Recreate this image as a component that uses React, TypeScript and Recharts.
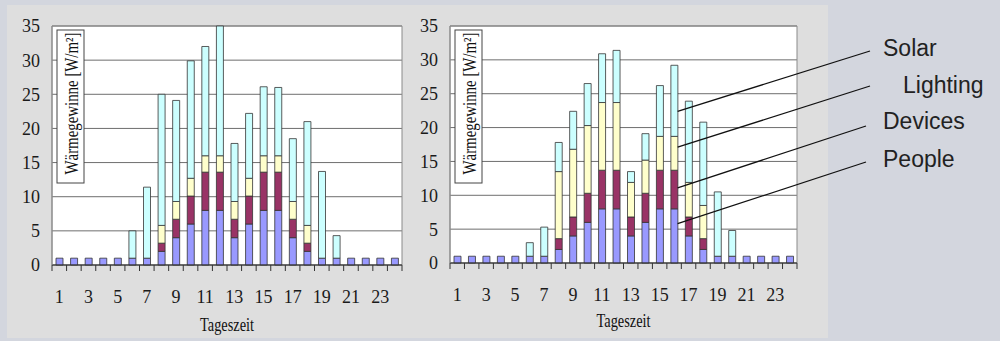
import React from 'react';
import { BarChart, Bar, XAxis, YAxis, CartesianGrid, ReferenceArea } from 'recharts';

// hour of day, 1..24
const hours = ['1', '2', '3', '4', '5', '6', '7', '8', '9', '10', '11', '12',
  '13', '14', '15', '16', '17', '18', '19', '20', '21', '22', '23', '24'];
const yTicks = [0, 5, 10, 15, 20, 25, 30, 35];

// left panel
const peopleA = [1, 1, 1, 1, 1, 1, 1, 2, 4, 6, 8, 8, 4, 6, 8, 8, 4, 2, 1, 1, 1, 1, 1, 1];
const devicesA = [0, 0, 0, 0, 0, 0, 0, 1.2, 2.7, 4.1, 5.6, 5.6, 2.7, 4.1, 5.6, 5.6, 2.7, 1.2, 0, 0, 0, 0, 0, 0];
const lightingA = [0, 0, 0, 0, 0, 0, 0, 2.6, 2.6, 2.6, 2.4, 2.4, 2.6, 2.6, 2.4, 2.4, 2.6, 2.6, 0, 0, 0, 0, 0, 0];
const solarA = [0, 0, 0, 0, 0, 4, 10.4, 19.2, 14.8, 17.2, 16, 19, 8.5, 9.5, 10.1, 10, 9.2, 15.2, 12.7, 3.3, 0, 0, 0, 0];

// right panel
const peopleB = [1, 1, 1, 1, 1, 1, 1, 2, 4, 6, 8, 8, 4, 6, 8, 8, 4, 2, 1, 1, 1, 1, 1, 1];
const devicesB = [0, 0, 0, 0, 0, 0, 0, 1.6, 2.8, 4.3, 5.7, 5.7, 2.8, 4.3, 5.7, 5.7, 2.8, 1.6, 0, 0, 0, 0, 0, 0];
const lightingB = [0, 0, 0, 0, 0, 0, 0, 9.9, 10, 10, 10, 10, 5.1, 4.9, 5, 5, 5.1, 4.9, 0, 0, 0, 0, 0, 0];
const solarB = [0, 0, 0, 0, 0, 2, 4.3, 4.3, 5.6, 6.2, 7.2, 7.7, 1.6, 3.9, 7.5, 10.5, 12, 12.3, 9.5, 3.8, 0, 0, 0, 0];

// callout labels and the value on hour 16 (right panel) each one points at
const calloutLabels = ['Solar', 'Lighting', 'Devices', 'People'];
const calloutValues = [22.4, 17.1, 11.1, 5.8];
const calloutHour = 16;

const COLORS = { people: '#9999ff', devices: '#993366', lighting: '#ffffcc', solar: '#ccffff' };
const SERIF = '"Liberation Serif", "Times New Roman", serif';
const SANS = '"Liberation Sans", Arial, sans-serif';
const BAR_SIZE = 7;

const toRows = (p: number[], d: number[], l: number[], s: number[]) =>
  hours.map((h, i) => ({ hour: h, people: p[i], devices: d[i], lighting: l[i], solar: s[i] }));

const rowsA = toRows(peopleA, devicesA, lightingA, solarA);
const rowsB = toRows(peopleB, devicesB, lightingB, solarB);

type Frame = { left: number; width: number; plotLeft: number; plotRight: number; plotTop: number; plotBottom: number };

const frameA: Frame = { left: 0, width: 420, plotLeft: 52, plotRight: 402, plotTop: 26, plotBottom: 265 };
const frameB: Frame = { left: 400, width: 420, plotLeft: 450, plotRight: 797, plotTop: 26, plotBottom: 263 };

const HourTick = (props: any) => {
  const { x, y, index, payload, step } = props;
  const edge = x - step / 2;
  return (
    <g>
      <line x1={edge} x2={edge} y1={y} y2={y + 6} stroke="#333" strokeWidth={1} />
      {index === hours.length - 1 && (
        <line x1={x + step / 2} x2={x + step / 2} y1={y} y2={y + 6} stroke="#333" strokeWidth={1} />
      )}
      {index % 2 === 0 && (
        <text x={x} y={y + 38} textAnchor="middle" fontFamily={SERIF} fontSize={18} fill="#1a1a1a">
          {payload.value}
        </text>
      )}
    </g>
  );
};

const GainsChart = ({ rows, frame }: { rows: any[]; frame: Frame }) => {
  const step = (frame.plotRight - frame.plotLeft) / hours.length;
  const yAxisWidth = 40;
  return (
    <div style={{ position: 'absolute', left: frame.left, top: 0 }}>
      <BarChart
        width={frame.width}
        height={341}
        data={rows}
        barSize={BAR_SIZE}
        margin={{
          top: frame.plotTop,
          right: frame.left + frame.width - frame.plotRight,
          bottom: 0,
          left: frame.plotLeft - frame.left - yAxisWidth,
        }}
      >
        <CartesianGrid vertical={false} stroke="#6e6e6e" fill="#ffffff" />
        <XAxis
          dataKey="hour"
          interval={0}
          height={341 - frame.plotBottom}
          tickSize={0}
          tickMargin={0}
          tickLine={false}
          axisLine={{ stroke: '#333' }}
          tick={(p: any) => <HourTick {...p} step={step} />}
        />
        <YAxis
          width={yAxisWidth}
          domain={[0, 35]}
          ticks={yTicks}
          interval={0}
          tickLine={false}
          tickSize={0}
          tickMargin={12}
          axisLine={{ stroke: '#8a8a8a' }}
          tick={{ fontFamily: SERIF, fontSize: 18, fill: '#1a1a1a' }}
        />
        <Bar dataKey="people" stackId="g" fill={COLORS.people} stroke="#333" strokeWidth={0.8} isAnimationActive={false} />
        <Bar dataKey="devices" stackId="g" fill={COLORS.devices} stroke="#333" strokeWidth={0.8} isAnimationActive={false} />
        <Bar dataKey="lighting" stackId="g" fill={COLORS.lighting} stroke="#333" strokeWidth={0.8} isAnimationActive={false} />
        <Bar dataKey="solar" stackId="g" fill={COLORS.solar} stroke="#333" strokeWidth={0.8} isAnimationActive={false} />
        <ReferenceArea y1={0} y2={35} fill="none" stroke="#8a8a8a" strokeWidth={1} ifOverflow="visible" />
      </BarChart>
    </div>
  );
};

// rotated axis title in a framed box inside the plot
const UnitBox = ({ frame }: { frame: Frame }) => {
  const bx = frame.plotLeft + 5;
  const by = frame.plotTop + 4;
  const bw = 27;
  const bh = 153;
  return (
    <g>
      <rect x={bx} y={by} width={bw} height={bh} fill="#fff" stroke="#444" strokeWidth={1} />
      <text
        transform={`translate(${bx + bw / 2 + 1}, ${by + bh / 2 - 3}) rotate(-90)`}
        textAnchor="middle"
        dominantBaseline="central"
        fontFamily={SERIF}
        fontSize={18}
        fill="#111"
        textLength={142}
        lengthAdjust="spacingAndGlyphs"
      >
        Wärmegewinne [W/m²]
      </text>
    </g>
  );
};

const TimeTitle = ({ frame, y }: { frame: Frame; y: number }) => (
  <text
    x={(frame.plotLeft + frame.plotRight) / 2}
    y={y}
    textAnchor="middle"
    fontFamily={SERIF}
    fontSize={19}
    fill="#111"
    textLength={54}
    lengthAdjust="spacingAndGlyphs"
  >
    Tageszeit
  </text>
);

const Callouts = () => {
  const f = frameB;
  const step = (f.plotRight - f.plotLeft) / hours.length;
  const x0 = f.plotLeft + (calloutHour - 0.5) * step + BAR_SIZE / 2;
  const toY = (v: number) => f.plotBottom - (v / 35) * (f.plotBottom - f.plotTop);
  const ends = [
    { x: 870, y: 51 },
    { x: 870, y: 86 },
    { x: 866, y: 126 },
    { x: 866, y: 162 },
  ];
  const labelPos = [
    { x: 883, y: 56 },
    { x: 903, y: 93 },
    { x: 883, y: 129 },
    { x: 883, y: 167 },
  ];
  return (
    <g>
      {calloutValues.map((v, i) => (
        <line key={`l${i}`} x1={x0} y1={toY(v)} x2={ends[i].x} y2={ends[i].y} stroke="#111" strokeWidth={1.3} />
      ))}
      {calloutLabels.map((t, i) => (
        <text key={`t${i}`} x={labelPos[i].x} y={labelPos[i].y} fontFamily={SANS} fontSize={23} fill="#222">
          {t}
        </text>
      ))}
    </g>
  );
};

export default function App() {
  return (
    <div style={{ position: 'absolute', left: 0, top: 0, width: 1000, height: 341, background: '#d3d6de', overflow: 'hidden' }}>
      <div style={{ position: 'absolute', left: 7, top: 5, width: 821, height: 333, background: '#dedede' }} />
      <GainsChart rows={rowsA} frame={frameA} />
      <GainsChart rows={rowsB} frame={frameB} />
      <svg width={1000} height={341} style={{ position: 'absolute', left: 0, top: 0, pointerEvents: 'none' }}>
        <UnitBox frame={frameA} />
        <UnitBox frame={frameB} />
        <TimeTitle frame={frameA} y={331} />
        <TimeTitle frame={frameB} y={327} />
        <Callouts />
      </svg>
    </div>
  );
}
